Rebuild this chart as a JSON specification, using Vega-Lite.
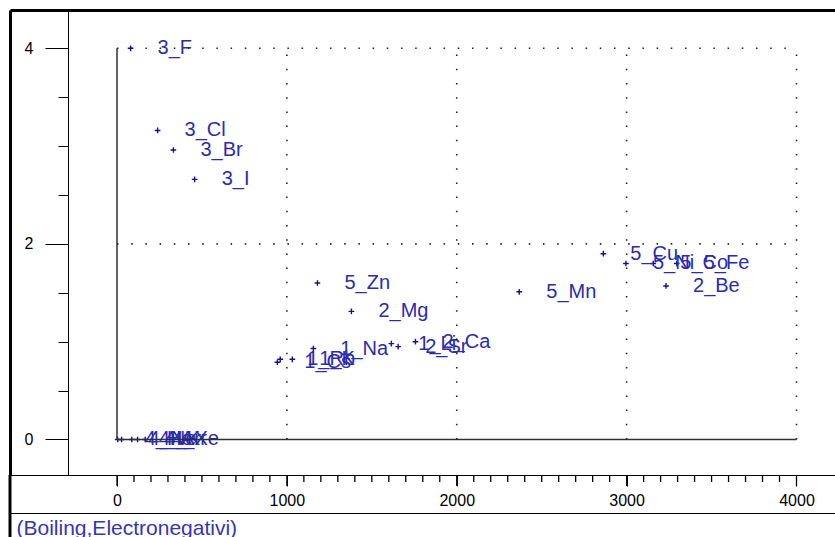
{
  "$schema": "https://vega.github.io/schema/vega-lite/v6.json",
  "width": 825,
  "height": 465,
  "autosize": {"type": "none"},
  "padding": {"left": 10, "top": 10, "right": 0, "bottom": 62},
  "background": "white",
  "config": {
    "view": {"stroke": null},
    "axis": {"grid": false, "labelFont": "Liberation Sans", "titleFont": "Liberation Sans", "labelFlush": false, "labelOverlap": false}
  },
  "datasets": {
    "elements": [
      {"name": "4_He", "bp": 4, "en": 0},
      {"name": "4_Ne", "bp": 27, "en": 0},
      {"name": "4_Ar", "bp": 87, "en": 0},
      {"name": "4_Kr", "bp": 121, "en": 0},
      {"name": "4_Xe", "bp": 166, "en": 0},
      {"name": "3_F", "bp": 80, "en": 4.0},
      {"name": "3_Cl", "bp": 239, "en": 3.16},
      {"name": "3_Br", "bp": 332, "en": 2.96},
      {"name": "3_I", "bp": 457, "en": 2.66},
      {"name": "1_Cs", "bp": 944, "en": 0.79},
      {"name": "1_Rb", "bp": 961, "en": 0.82},
      {"name": "1_K", "bp": 1032, "en": 0.82},
      {"name": "1_Na", "bp": 1156, "en": 0.93},
      {"name": "1_Li", "bp": 1615, "en": 0.98},
      {"name": "2_Mg", "bp": 1380, "en": 1.31},
      {"name": "2_Sr", "bp": 1655, "en": 0.95},
      {"name": "2_Ca", "bp": 1757, "en": 1.0},
      {"name": "2_Be", "bp": 3232, "en": 1.57},
      {"name": "5_Zn", "bp": 1180, "en": 1.6},
      {"name": "5_Mn", "bp": 2368, "en": 1.51},
      {"name": "5_Cu", "bp": 2863, "en": 1.9},
      {"name": "5_Ni", "bp": 2996, "en": 1.8},
      {"name": "5_Co", "bp": 3157, "en": 1.8},
      {"name": "5_Fe", "bp": 3295, "en": 1.8}
    ],
    "majorTicks": [{"t": 0}, {"t": 1000}, {"t": 2000}, {"t": 3000}, {"t": 4000}],
    "minorTicks": [
      {"t": 100}, {"t": 200}, {"t": 300}, {"t": 400}, {"t": 500}, {"t": 600}, {"t": 700}, {"t": 800}, {"t": 900},
      {"t": 1100}, {"t": 1200}, {"t": 1300}, {"t": 1400}, {"t": 1500}, {"t": 1600}, {"t": 1700}, {"t": 1800}, {"t": 1900},
      {"t": 2100}, {"t": 2200}, {"t": 2300}, {"t": 2400}, {"t": 2500}, {"t": 2600}, {"t": 2700}, {"t": 2800}, {"t": 2900},
      {"t": 3100}, {"t": 3200}, {"t": 3300}, {"t": 3400}, {"t": 3500}, {"t": 3600}, {"t": 3700}, {"t": 3800}, {"t": 3900}
    ]
  },
  "resolve": {"axis": {"x": "independent", "y": "independent"}},
  "layer": [
    {
      "data": {"name": "elements"},
      "mark": {"type": "point", "shape": "M-1,0L1,0M0,-1L0,1", "size": 32, "filled": false, "strokeWidth": 1.4, "color": "#10109a", "opacity": 1},
      "encoding": {
        "x": {"field": "bp", "type": "quantitative",
          "scale": {"domain": [-629.87, 4226.64], "nice": false, "zero": false},
          "axis": {"orient": "bottom", "offset": 0, "domain": true, "domainColor": "#000000", "domainWidth": 1, "values": [0, 1000, 2000, 3000, 4000], "format": "d", "tickSize": 11, "tickColor": "#000000", "labelFontSize": 16, "labelColor": "#000000", "labelPadding": 6, "title": null}},
        "y": {"field": "en", "type": "quantitative",
          "scale": {"domain": [-0.363, 4.3916], "nice": false, "zero": false},
          "axis": {"orient": "left", "offset": -58, "domain": true, "domainColor": "#000000", "domainWidth": 1, "values": [0, 2, 4], "format": "d", "tickSize": 23, "tickColor": "#000000", "labelFontSize": 16, "labelColor": "#000000", "labelPadding": 12, "title": null}}
      }
    },
    {
      "data": {"name": "elements"},
      "mark": {"type": "text", "align": "left", "baseline": "middle", "dx": 27, "fontSize": 20, "font": "Liberation Sans", "color": "#2b2bb0"},
      "encoding": {
        "x": {"field": "bp", "type": "quantitative",
          "scale": {"domain": [-629.87, 4226.64], "nice": false, "zero": false},
          "axis": null},
        "y": {"field": "en", "type": "quantitative",
          "scale": {"domain": [-0.363, 4.3916], "nice": false, "zero": false},
          "axis": null},
        "text": {"field": "name"}
      }
    },
    {
      "data": {"name": "majorTicks"},
      "mark": {"type": "rule", "color": "#000000", "strokeWidth": 1.3, "clip": false},
      "encoding": {
        "x": {"field": "t", "type": "quantitative",
          "scale": {"domain": [-629.87, 4226.64], "nice": false, "zero": false},
          "axis": null},
        "y": {"datum": -0.363, "type": "quantitative",
          "scale": {"domain": [-0.363, 4.3916], "nice": false, "zero": false},
          "axis": null},
        "y2": {"datum": -0.4755}
      }
    },
    {
      "data": {"name": "minorTicks"},
      "mark": {"type": "rule", "color": "#000000", "strokeWidth": 1.3, "clip": false},
      "encoding": {
        "x": {"field": "t", "type": "quantitative",
          "scale": {"domain": [-629.87, 4226.64], "nice": false, "zero": false},
          "axis": null},
        "y": {"datum": -0.363, "type": "quantitative",
          "scale": {"domain": [-0.363, 4.3916], "nice": false, "zero": false},
          "axis": null},
        "y2": {"datum": -0.4346}
      }
    },
    {
      "data": {"values": [
        {"x1": 0, "x2": 0, "y1": 0, "y2": 4},
        {"x1": 0, "x2": 4000, "y1": 0, "y2": 0}
      ]},
      "mark": {"type": "rule", "color": "#303030", "strokeWidth": 1.5},
      "encoding": {
        "x": {"field": "x1", "type": "quantitative",
          "scale": {"domain": [-629.87, 4226.64], "nice": false, "zero": false},
          "axis": null},
        "x2": {"field": "x2"},
        "y": {"field": "y1", "type": "quantitative",
          "scale": {"domain": [-0.363, 4.3916], "nice": false, "zero": false},
          "axis": {"orient": "left", "offset": -58, "domain": false, "labels": false, "values": [0.5, 1, 1.5, 2.5, 3, 3.5], "tickSize": 10, "tickColor": "#000000", "title": null}},
        "y2": {"field": "y2"}
      }
    },
    {
      "data": {"values": [
        {"v": 1000, "lo": 0, "hi": 4},
        {"v": 2000, "lo": 0, "hi": 4},
        {"v": 3000, "lo": 0, "hi": 4},
        {"v": 4000, "lo": 0, "hi": 4}
      ]},
      "mark": {"type": "rule", "color": "#222222", "strokeWidth": 1.6, "strokeDash": [1.5, 12.7]},
      "encoding": {
        "x": {"field": "v", "type": "quantitative",
          "scale": {"domain": [-629.87, 4226.64], "nice": false, "zero": false},
          "axis": {"orient": "top", "domain": true, "domainColor": "#000000", "domainWidth": 3, "tickSize": 0, "tickOpacity": 0, "labels": false, "title": null}},
        "y": {"field": "lo", "type": "quantitative",
          "scale": {"domain": [-0.363, 4.3916], "nice": false, "zero": false},
          "axis": {"orient": "left", "offset": 0, "domain": true, "domainColor": "#000000", "domainWidth": 3, "tickSize": 0, "tickOpacity": 0, "labels": false, "title": null}},
        "y2": {"field": "hi"}
      }
    },
    {
      "data": {"values": [
        {"v": 2, "lo": 0, "hi": 4000},
        {"v": 4, "lo": 0, "hi": 4000}
      ]},
      "mark": {"type": "rule", "color": "#222222", "strokeWidth": 1.6, "strokeDash": [1.5, 12.7]},
      "encoding": {
        "x": {"field": "lo", "type": "quantitative",
          "scale": {"domain": [-629.87, 4226.64], "nice": false, "zero": false},
          "axis": {"orient": "bottom", "offset": 38, "domain": true, "domainColor": "#000000", "domainWidth": 1, "tickSize": 0, "tickOpacity": 0, "labels": false,
            "title": "(Boiling,Electronegativi)", "titleAnchor": "start", "titleAlign": "left", "titleX": 6, "titleY": 21, "titleBaseline": "alphabetic",
            "titleFontSize": 21, "titleFontWeight": "normal", "titleColor": "#3535b5"}},
        "x2": {"field": "hi"},
        "y": {"field": "v", "type": "quantitative",
          "scale": {"domain": [-0.363, 4.3916], "nice": false, "zero": false},
          "axis": null}
      }
    },
    {
      "data": {"values": [{"edge": -629.87}]},
      "mark": {"type": "rule", "color": "#000000", "strokeWidth": 3, "clip": false},
      "encoding": {
        "x": {"field": "edge", "type": "quantitative",
          "scale": {"domain": [-629.87, 4226.64], "nice": false, "zero": false},
          "axis": null},
        "y": {"datum": -0.363, "type": "quantitative",
          "scale": {"domain": [-0.363, 4.3916], "nice": false, "zero": false},
          "axis": null},
        "y2": {"datum": -0.9969}
      }
    }
  ]
}
